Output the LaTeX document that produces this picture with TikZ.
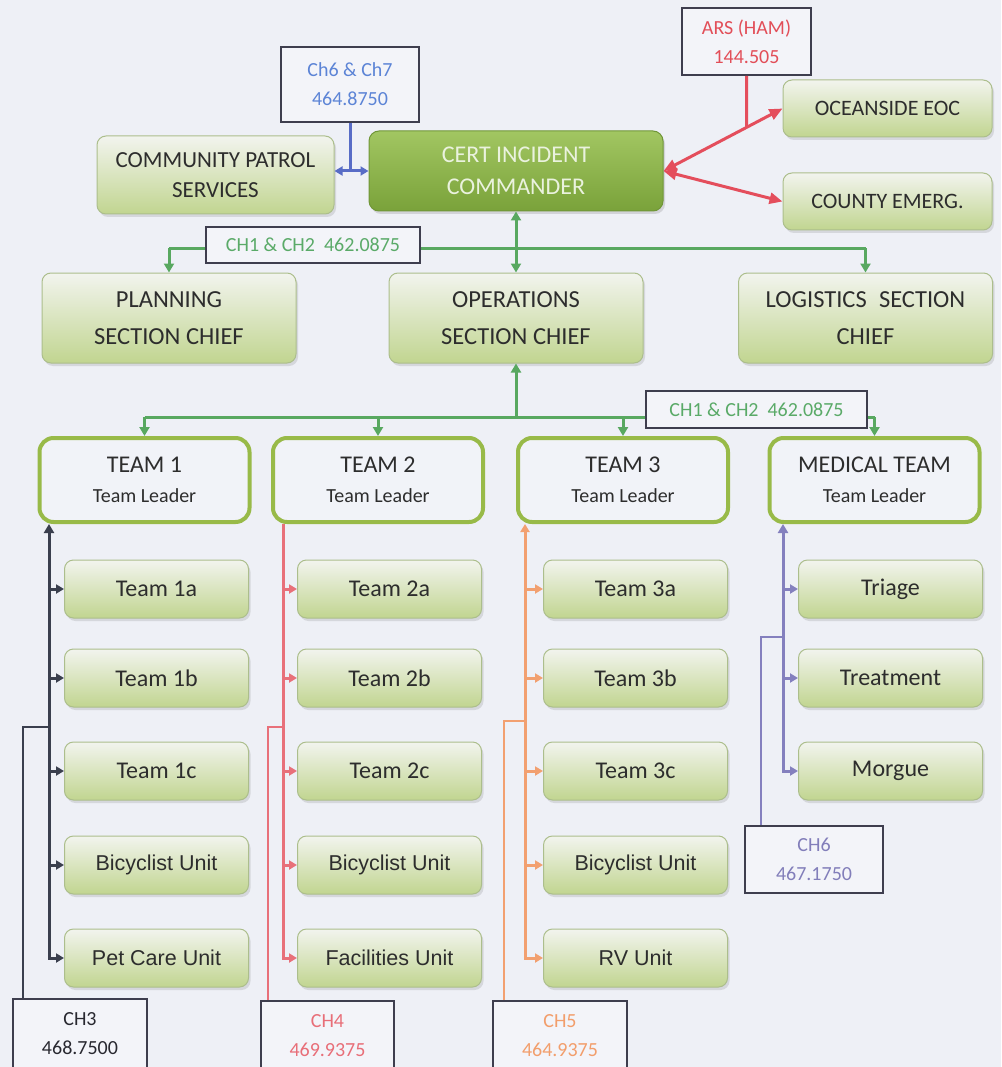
\documentclass[tikz,border=0pt]{standalone}
\usepackage{fontspec}
\setmainfont{Carlito}
\newfontfamily\arialf{Liberation Sans}
\usetikzlibrary{arrows.meta,shadows,calc}
\definecolor{bg}{RGB}{238,240,246}
\definecolor{lblfill}{RGB}{243,244,249}
\definecolor{lblborder}{RGB}{62,62,78}
\definecolor{gtop}{RGB}{242,244,238}
\definecolor{gbot}{RGB}{193,213,144}
\definecolor{gborder}{RGB}{172,190,140}
\definecolor{ctop}{RGB}{162,198,98}
\definecolor{cbot}{RGB}{122,162,58}
\definecolor{cborder}{RGB}{112,150,56}
\definecolor{ctext}{RGB}{234,242,222}
\definecolor{tborder}{RGB}{152,186,72}
\definecolor{tfill}{RGB}{241,243,248}
\definecolor{txt}{RGB}{45,45,45}
\definecolor{gln}{RGB}{88,168,96}
\definecolor{bln}{RGB}{88,108,198}
\definecolor{rln}{RGB}{228,78,92}
\definecolor{t1c}{RGB}{58,63,78}
\definecolor{t2c}{RGB}{232,112,122}
\definecolor{t3c}{RGB}{242,160,112}
\definecolor{medc}{RGB}{132,128,190}
\definecolor{lblue}{RGB}{92,132,214}
\definecolor{lred}{RGB}{226,78,88}
\definecolor{lgreen}{RGB}{90,170,104}
\definecolor{ldark}{RGB}{40,40,48}
\definecolor{lpink}{RGB}{232,110,120}
\definecolor{lorange}{RGB}{242,158,108}
\definecolor{lpurple}{RGB}{130,126,186}
\newcommand{\fsLbl}{\fontsize{20}{29}\selectfont}
\begin{document}
\begin{tikzpicture}[x=1pt,y=-1pt,
  gbox/.style={draw=gborder,line width=1,rounded corners=9,top color=gtop,bottom color=gbot,
    drop shadow={opacity=0.22,shadow xshift=2pt,shadow yshift=-3pt},text=txt,align=center,inner sep=0},
  cbox/.style={draw=cborder,line width=1,rounded corners=10,top color=ctop,bottom color=cbot,
    drop shadow={opacity=0.25,shadow xshift=2pt,shadow yshift=-3pt},text=ctext,align=center,inner sep=0},
  tbox/.style={draw=tborder,line width=4,rounded corners=14,fill=tfill,text=txt,align=center,inner sep=0,
    minimum width=210,minimum height=84,font=\fontsize{24}{30}\selectfont},
  sbox/.style={gbox,minimum width=184,minimum height=58,font=\fontsize{24}{28}\selectfont},
  abox/.style={gbox,minimum width=184,minimum height=58,font=\arialf\fontsize{21.5}{25}\selectfont},
  chief/.style={gbox,minimum width=254,minimum height=90,font=\fontsize{24.5}{37}\selectfont},
  lbl/.style={draw=lblborder,line width=2,fill=lblfill,align=center,inner sep=0,font=\fsLbl},
  tip/.style={-{Triangle[width=10pt,length=9pt]}},
  stip/.style={-{Triangle[width=9pt,length=8pt]}},
  bigtip/.style={{Triangle[width=11pt,length=13pt]}-{Triangle[width=11pt,length=13pt]}},
  gl/.style={draw=gln,line width=3},
  tl/.style={line width=3}
]
\fill[bg] (0,0) rectangle (1001,1067);
\useasboundingbox (0,0) rectangle (1001,1067);

% ---- top level nodes
\node[gbox,minimum width=237,minimum height=78,font=\fontsize{23}{30}\selectfont] (comm) at (215.5,175) {COMMUNITY PATROL\\SERVICES};
\node[cbox,minimum width=294,minimum height=80,font=\fontsize{24}{32}\selectfont] (cmdr) at (516,171) {CERT INCIDENT\\COMMANDER};
\node[lbl,minimum width=138,minimum height=75,text=lblue] (ch67) at (350,84.5) {Ch6 \& Ch7\\464.8750};
\node[lbl,minimum width=129,minimum height=67,text=lred] (ars) at (746.5,41.5) {ARS (HAM)\\144.505};
\node[gbox,minimum width=209,minimum height=57,font=\fontsize{22}{26}\selectfont] (ocean) at (887.5,108.5) {OCEANSIDE EOC};
\node[gbox,minimum width=209,minimum height=57,font=\fontsize{22}{26}\selectfont] (county) at (887.5,201.5) {COUNTY EMERG.};

\node[chief] (plan) at (169,318) {PLANNING\\SECTION CHIEF};
\node[chief] (ops) at (516,318) {OPERATIONS\\SECTION CHIEF};
\node[chief] (logi) at (865.5,318) {LOGISTICS\enspace SECTION\\CHIEF};

% ---- top connectors
\draw[draw=bln,line width=3,{Triangle[width=9pt,length=8pt]}-{Triangle[width=9pt,length=8pt]}] (cmdr.west -| comm.east) -- (cmdr.west);
\draw[draw=bln,line width=3] (ch67.south) -- (ch67.south |- cmdr.west);
\draw[draw=rln,line width=3,bigtip] (cmdr.east) -- (ocean.west);
\draw[draw=rln,line width=3,bigtip] (cmdr.east) -- (county.west);
\draw[draw=rln,line width=3] (ars.south) -- (intersection of ars.south--ars.north and cmdr.east--ocean.west);

% ---- section bus
\coordinate (bus1) at (516,248);
\draw[gl,tip] (bus1) -- (cmdr.south);
\draw[gl] (bus1 -| plan.north) -- (bus1 -| logi.north);
\draw[gl,tip] (bus1 -| plan.north) -- (plan.north);
\draw[gl,tip] (bus1) -- (ops.north);
\draw[gl,tip] (bus1 -| logi.north) -- (logi.north);
\node[lbl,minimum width=214,minimum height=36,text=lgreen] (ch12a) at (313,245) {CH1 \& CH2\hspace{9pt}462.0875};

% ---- teams
\node[tbox] (team1) at (144.5,480) {TEAM 1\\{\fontsize{20}{30}\selectfont Team Leader}};
\node[tbox] (team2) at (378,480) {TEAM 2\\{\fontsize{20}{30}\selectfont Team Leader}};
\node[tbox] (team3) at (623,480) {TEAM 3\\{\fontsize{20}{30}\selectfont Team Leader}};
\node[tbox] (med) at (874.5,480) {MEDICAL TEAM\\{\fontsize{20}{30}\selectfont Team Leader}};

\coordinate (bus2) at (516,417);
\draw[gl,tip] (bus2) -- (ops.south);
\draw[gl] (bus2 -| team1.north) -- (bus2 -| med.north);
\draw[gl,tip] (bus2 -| team1.north) -- (team1.north);
\draw[gl,tip] (bus2 -| team2.north) -- (team2.north);
\draw[gl,tip] (bus2 -| team3.north) -- (team3.north);
\draw[gl,tip] (bus2 -| med.north) -- (med.north);
\node[lbl,minimum width=221,minimum height=37,text=lgreen] (ch12b) at (756.5,409.5) {CH1 \& CH2\hspace{9pt}462.0875};

% ---- sub units
\node[sbox] (t1a) at (156.5,589) {Team 1a};
\node[sbox] (t1b) at (156.5,678) {Team 1b};
\node[sbox] (t1c) at (156.5,771) {Team 1c};
\node[abox] (t1d) at (156.5,865) {Bicyclist Unit};
\node[abox] (t1e) at (156.5,958) {Pet Care Unit};

\node[sbox] (t2a) at (389.5,589) {Team 2a};
\node[sbox] (t2b) at (389.5,678) {Team 2b};
\node[sbox] (t2c) at (389.5,771) {Team 2c};
\node[abox] (t2d) at (389.5,865) {Bicyclist Unit};
\node[abox] (t2e) at (389.5,958) {Facilities Unit};

\node[sbox] (t3a) at (635.5,589) {Team 3a};
\node[sbox] (t3b) at (635.5,678) {Team 3b};
\node[sbox] (t3c) at (635.5,771) {Team 3c};
\node[abox] (t3d) at (635.5,865) {Bicyclist Unit};
\node[abox] (t3e) at (635.5,958) {RV Unit};

\node[sbox] (m1) at (890.5,589) {Triage};
\node[sbox] (m2) at (890.5,678) {Treatment};
\node[sbox] (m3) at (890.5,771) {Morgue};

% ---- channel labels (bottom)
\node[lbl,minimum width=134,minimum height=85,anchor=north] (ch3) at (80,998) {};
\node[text=ldark,align=center,font=\fsLbl] (ch3t) at ($(ch3.north)+(0,36)$) {CH3\\468.7500};
\node[lbl,minimum width=133,minimum height=85,anchor=north] (ch4) at (327.5,1000) {};
\node[text=lpink,align=center,font=\fsLbl] (ch4t) at ($(ch4.north)+(0,36)$) {CH4\\469.9375};
\node[lbl,minimum width=134,minimum height=85,anchor=north] (ch5) at (560,1000) {};
\node[text=lorange,align=center,font=\fsLbl] (ch5t) at ($(ch5.north)+(0,36)$) {CH5\\464.9375};
\node[lbl,minimum width=138,minimum height=67,text=lpurple] (ch6) at (814,859.5) {CH6\\467.1750};

% ---- team lines
\coordinate (L1) at (49,0);
\coordinate (L2) at (283,0);
\coordinate (L3) at (525,0);
\coordinate (L4) at (783,0);

% team 1
\draw[t1c,tl,{Triangle[width=10pt,length=9pt]}-{Triangle[width=9pt,length=8pt]}] (team1.south -| L1) -- (t1e.west -| L1) -- (t1e.west);
\foreach \n in {t1a,t1b,t1c,t1d}{\draw[t1c,tl,stip] (\n.west -| L1) -- (\n.west);}
\coordinate (k1) at (23,727);
\draw[t1c,line width=2.5] (k1 -| L1) -- (k1) -- (k1 |- ch3.north);

% team 2
\draw[t2c,tl,stip] (team2.south -| L2) -- (t2e.west -| L2) -- (t2e.west);
\foreach \n in {t2a,t2b,t2c,t2d}{\draw[t2c,tl,stip] (\n.west -| L2) -- (\n.west);}
\coordinate (k2) at (268,727);
\draw[t2c,line width=2.5] (k2 -| L2) -- (k2) -- (k2 |- ch4.north);

% team 3
\draw[t3c,tl,{Triangle[width=9pt,length=8pt]}-{Triangle[width=9pt,length=8pt]}] (team3.south -| L3) -- (t3e.west -| L3) -- (t3e.west);
\foreach \n in {t3a,t3b,t3c,t3d}{\draw[t3c,tl,stip] (\n.west -| L3) -- (\n.west);}
\coordinate (k3) at (504,721);
\draw[t3c,line width=2.5] (k3 -| L3) -- (k3) -- (k3 |- ch5.north);

% medical
\draw[medc,tl,{Triangle[width=10pt,length=9pt]}-{Triangle[width=9pt,length=8pt]}] (med.south -| L4) -- (m3.west -| L4) -- (m3.west);
\foreach \n in {m1,m2}{\draw[medc,tl,stip] (\n.west -| L4) -- (\n.west);}
\coordinate (k4) at (761,637);
\draw[medc,line width=2.5] (k4 -| L4) -- (k4) -- (k4 |- ch6.north);

\end{tikzpicture}
\end{document}
